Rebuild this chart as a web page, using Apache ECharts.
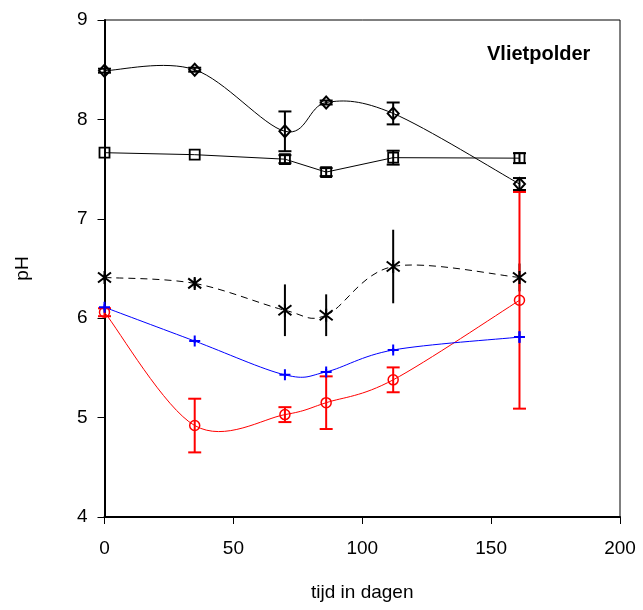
<!DOCTYPE html>
<html>
<head>
<meta charset="utf-8">
<script src="https://cdn.jsdelivr.net/npm/echarts@6/dist/echarts.min.js"></script>
<style>
  html, body { margin: 0; padding: 0; background: #fff; }
  #chart { width: 643px; height: 610px; }
</style>
</head>
<body>
<div id="chart"></div>
<script>
// Sampling days
const days = [0, 35, 70, 86, 112, 161];

// pH per treatment with standard deviation
const phDiamond = [8.49, 8.50, 7.88, 8.17, 8.06, 7.35];
const errDiamond = [0.02, 0.02, 0.20, 0.02, 0.11, 0.06];

const phSquare = [7.665, 7.645, 7.60, 7.47, 7.615, 7.61];
const errSquare = [0, 0, 0.04, 0.04, 0.07, 0.05];

const phStar = [6.41, 6.35, 6.08, 6.03, 6.52, 6.41];
const errStar = [0.03, 0.05, 0.26, 0.21, 0.37, 0.14];

const phPlus = [6.11, 5.77, 5.43, 5.46, 5.68, 5.81];
const errPlus = [0.03, 0.02, 0.02, 0.03, 0.02, 0.06];

const phCircle = [6.06, 4.92, 5.03, 5.15, 5.38, 6.18];
const errCircle = [0.04, 0.27, 0.075, 0.265, 0.125, 1.09];

// Axis ticks
const xTicks = [0, 50, 100, 150, 200];
const yTicks = [4, 5, 6, 7, 8, 9];

const FONT = 'Liberation Sans, Arial, sans-serif';

const pairs = (ys) => days.map((d, i) => [d, ys[i]]);

// Vertical error bar drawn in data coordinates, optional caps
function errorBars(ys, es, color, caps, z) {
  return {
    type: 'custom',
    z: z,
    clip: false,
    silent: true,
    data: days.map((d, i) => [d, ys[i] - es[i], ys[i] + es[i]]),
    renderItem: function (params, api) {
      if (api.value(2) - api.value(1) <= 0) return null;
      const x = api.value(0);
      const lo = api.coord([x, api.value(1)]);
      const hi = api.coord([x, api.value(2)]);
      const style = { stroke: color, lineWidth: 2, fill: null };
      const children = [
        { type: 'line', shape: { x1: lo[0], y1: lo[1], x2: hi[0], y2: hi[1] }, style: style }
      ];
      if (caps) {
        const w = 6.5;
        children.push({ type: 'line', shape: { x1: lo[0] - w, y1: lo[1], x2: lo[0] + w, y2: lo[1] }, style: style });
        children.push({ type: 'line', shape: { x1: hi[0] - w, y1: hi[1], x2: hi[0] + w, y2: hi[1] }, style: style });
      }
      return { type: 'group', children: children };
    }
  };
}

// Smoothed connecting line: cardinal spline through the points (tension 1/6),
// one cubic Bezier segment per pair of neighbouring samples
function curve(ys, color, dash, z) {
  const n = days.length;
  return {
    type: 'custom',
    z: z,
    clip: false,
    silent: true,
    data: days.slice(0, n - 1).map((d, i) => [d, ys[i]]),
    renderItem: function (params, api) {
      const i = params.dataIndex;
      const P = (j) => {
        j = Math.max(0, Math.min(n - 1, j));
        return api.coord([days[j], ys[j]]);
      };
      const p0 = P(i - 1), p1 = P(i), p2 = P(i + 1), p3 = P(i + 2);
      const c1 = [p1[0] + (p2[0] - p0[0]) / 6, p1[1] + (p2[1] - p0[1]) / 6];
      const c2 = [p2[0] - (p3[0] - p1[0]) / 6, p2[1] - (p3[1] - p1[1]) / 6];
      return {
        type: 'bezierCurve',
        shape: {
          x1: p1[0], y1: p1[1], x2: p2[0], y2: p2[1],
          cpx1: c1[0], cpy1: c1[1], cpx2: c2[0], cpy2: c2[1]
        },
        style: { stroke: color, lineWidth: 1, fill: null, lineDash: dash || null }
      };
    }
  };
}

function markers(ys, symbol, size, color, width, z) {
  return {
    type: 'scatter',
    data: pairs(ys),
    clip: false,
    silent: true,
    z: z,
    symbol: symbol,
    symbolSize: size,
    itemStyle: { color: 'none', borderColor: color, borderWidth: width, opacity: 1 }
  };
}

const starPath = 'path://M0,0L10,10M10,0L0,10M5,-1.5L5,11.5';
const plusPath = 'path://M0,5L10,5M5,0L5,10';

const chart = echarts.init(document.getElementById('chart'), null, { renderer: 'canvas' });

chart.setOption({
  animation: false,
  backgroundColor: '#fff',
  grid: {
    left: 104.5, right: 23, top: 20, bottom: 93,
    show: true, borderColor: '#000', borderWidth: 1, backgroundColor: 'transparent'
  },
  graphic: [
    {
      type: 'text', left: 487, top: 44,
      style: { text: 'Vlietpolder', font: 'bold 20px ' + FONT, fill: '#000' }
    }
  ],
  xAxis: {
    type: 'value', min: 0, max: 200, interval: 50,
    name: 'tijd in dagen', nameLocation: 'middle', nameGap: 66,
    nameTextStyle: { fontFamily: FONT, fontSize: 19, color: '#000' },
    axisLine: { show: true, lineStyle: { color: '#000', width: 2 } },
    axisTick: { show: true, length: 7, lineStyle: { color: '#000', width: 1 } },
    axisLabel: {
      margin: 22, fontFamily: FONT, fontSize: 19, color: '#000',
      formatter: (v) => xTicks.includes(v) ? String(v) : ''
    },
    splitLine: { show: false }
  },
  yAxis: {
    type: 'value', min: 4, max: 9, interval: 1,
    name: 'pH', nameLocation: 'middle', nameGap: 72, nameRotate: 90,
    nameTextStyle: { fontFamily: FONT, fontSize: 19, color: '#000' },
    axisLine: { show: true, lineStyle: { color: '#000', width: 2 } },
    axisTick: { show: true, length: 7, lineStyle: { color: '#000', width: 1 } },
    axisLabel: {
      margin: 17, fontFamily: FONT, fontSize: 19, color: '#000',
      formatter: (v) => yTicks.includes(v) ? String(v) : ''
    },
    splitLine: { show: false }
  },
  series: [
    errorBars(phDiamond, errDiamond, '#000', true, 2),
    errorBars(phSquare, errSquare, '#000', true, 2),
    errorBars(phStar, errStar, '#000', false, 2),
    errorBars(phCircle, errCircle, '#ff0000', true, 3),
    errorBars(phPlus, errPlus, '#0000ff', false, 4),

    curve(phDiamond, '#000', null, 5),
    {
      type: 'line', data: pairs(phSquare), clip: false, silent: true, z: 5,
      showSymbol: false, lineStyle: { color: '#000', width: 1 }
    },
    curve(phStar, '#000', [7, 5], 5),
    curve(phCircle, '#ff0000', null, 6),
    curve(phPlus, '#0000ff', null, 7),

    markers(phDiamond, 'diamond', [11, 12], '#000', 2, 8),
    markers(phSquare, 'rect', 10, '#000', 1.8, 8),
    markers(phStar, starPath, 13, '#000', 2, 8),
    markers(phCircle, 'circle', 10, '#ff0000', 1.5, 9),
    markers(phPlus, plusPath, 11, '#0000ff', 2, 10)
  ]
});
</script>
</body>
</html>
